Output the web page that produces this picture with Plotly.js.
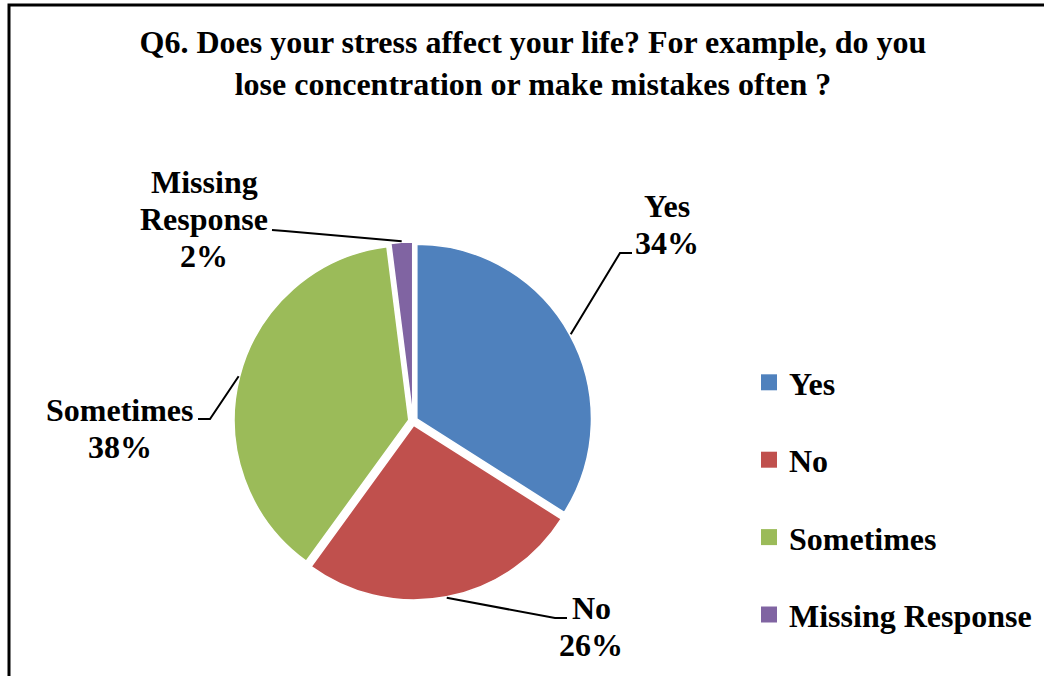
<!DOCTYPE html>
<html><head><meta charset="utf-8">
<script src="https://cdn.plot.ly/plotly-3.0.1.min.js"></script>
<style>html,body{margin:0;padding:0;background:#fff}#chart{width:1044px;height:676px}</style>
</head><body><div id="chart"></div>
<script>
// ---- data ----
const categories = ['Yes', 'No', 'Sometimes', 'Missing Response'];
const values = [34, 26, 38, 2];
const colors = ['#4F81BD', '#C0504D', '#9BBB59', '#8064A2'];
const labelLines = [['Yes'], ['No'], ['Sometimes'], ['Missing', 'Response']];
const titleText = 'Q6. Does your stress affect your life? For example, do you<br>lose concentration or make mistakes often ?';

// ---- layout constants ----
const W = 1044, H = 676;
const FONT = '"Liberation Serif", "Times New Roman", serif';
const FS = 32, LS = 37;
const cx = 413, cy = 421, R = 179, PULL = 0.025;
const labelLayout = [
  {x: 667, base: 216, stub: [632, 253], elbow: [620, 253]},
  {x: 591, base: 618, stub: [567, 618], elbow: [555, 618]},
  {x: 120, base: 420, stub: [198, 419], elbow: [210, 419]},
  {x: 204, base: 192, stub: [272, 230], elbow: [285, 231]}
];

const total = values.reduce((a, b) => a + b, 0);
const half = R;

const traces = [{
  type: 'pie',
  labels: categories,
  values: values,
  sort: false,
  direction: 'clockwise',
  rotation: 0,
  pull: PULL,
  textinfo: 'none',
  hoverinfo: 'label+percent',
  showlegend: false,
  marker: {colors: colors, line: {color: '#ffffff', width: 1.5}},
  domain: {x: [(cx - half) / W, (cx + half) / W], y: [(H - cy - half) / H, (H - cy + half) / H]}
}];

// legend entries from the same arrays
categories.forEach((c, i) => {
  traces.push({
    type: 'scatter', mode: 'markers', x: [null], y: [null], name: c,
    legendgroup: 'g' + i, showlegend: true,
    marker: {symbol: 'square', size: 16, color: colors[i]},
    hoverinfo: 'skip'
  });
});

const shapes = [{
  type: 'rect', xref: 'x', yref: 'y', x0: 9, y0: 5, x1: W + 30, y1: H + 30,
  line: {color: '#000', width: 3}, fillcolor: 'rgba(0,0,0,0)', layer: 'below'
}];
const annotations = [];
let cum = 0;
values.forEach((v, i) => {
  const mid = (cum + v / 2) / total * 2 * Math.PI;
  cum += v;
  const re = R + 1;
  const sx = cx + re * Math.sin(mid), sy = cy - re * Math.cos(mid);
  const L = labelLayout[i];
  shapes.push({
    type: 'path', xref: 'x', yref: 'y',
    path: `M${sx},${sy} L${L.elbow[0]},${L.elbow[1]} L${L.stub[0]},${L.stub[1]}`,
    line: {color: '#000', width: 2}
  });
  const pct = Math.round(v / total * 100) + '%';
  const lines = labelLines[i].concat([pct]);
  lines.forEach((t, j) => {
    annotations.push({
      xref: 'x', yref: 'y', x: L.x, y: L.base + j * LS - 10,
      xanchor: 'center', yanchor: 'middle', showarrow: false, text: t,
      font: {family: FONT, size: FS, color: '#000', weight: 'bold'}
    });
  });
});

const layout = {
  width: W, height: H,
  margin: {l: 0, r: 0, t: 0, b: 0, pad: 0},
  paper_bgcolor: '#fff', plot_bgcolor: 'rgba(0,0,0,0)',
  title: {
    text: titleText, x: 0.5105, xanchor: 'center', xref: 'paper',
    y: 1 - 53 / H, yref: 'container', yanchor: 'middle',
    font: {family: FONT, size: FS, color: '#000', weight: 'bold'}
  },
  xaxis: {range: [0, W], visible: false, fixedrange: true, domain: [0, 1]},
  yaxis: {range: [H, 0], visible: false, fixedrange: true, domain: [0, 1]},
  showlegend: true,
  legend: {
    x: 749 / W, xanchor: 'left', y: 1 - 355 / H, yanchor: 'top',
    font: {family: FONT, size: FS, color: '#000', weight: 'bold'},
    tracegroupgap: 32.8, bgcolor: 'rgba(0,0,0,0)', borderwidth: 0
  },
  shapes: shapes,
  annotations: annotations
};

Plotly.newPlot('chart', traces, layout, {displayModeBar: false, staticPlot: true});
</script></body></html>
